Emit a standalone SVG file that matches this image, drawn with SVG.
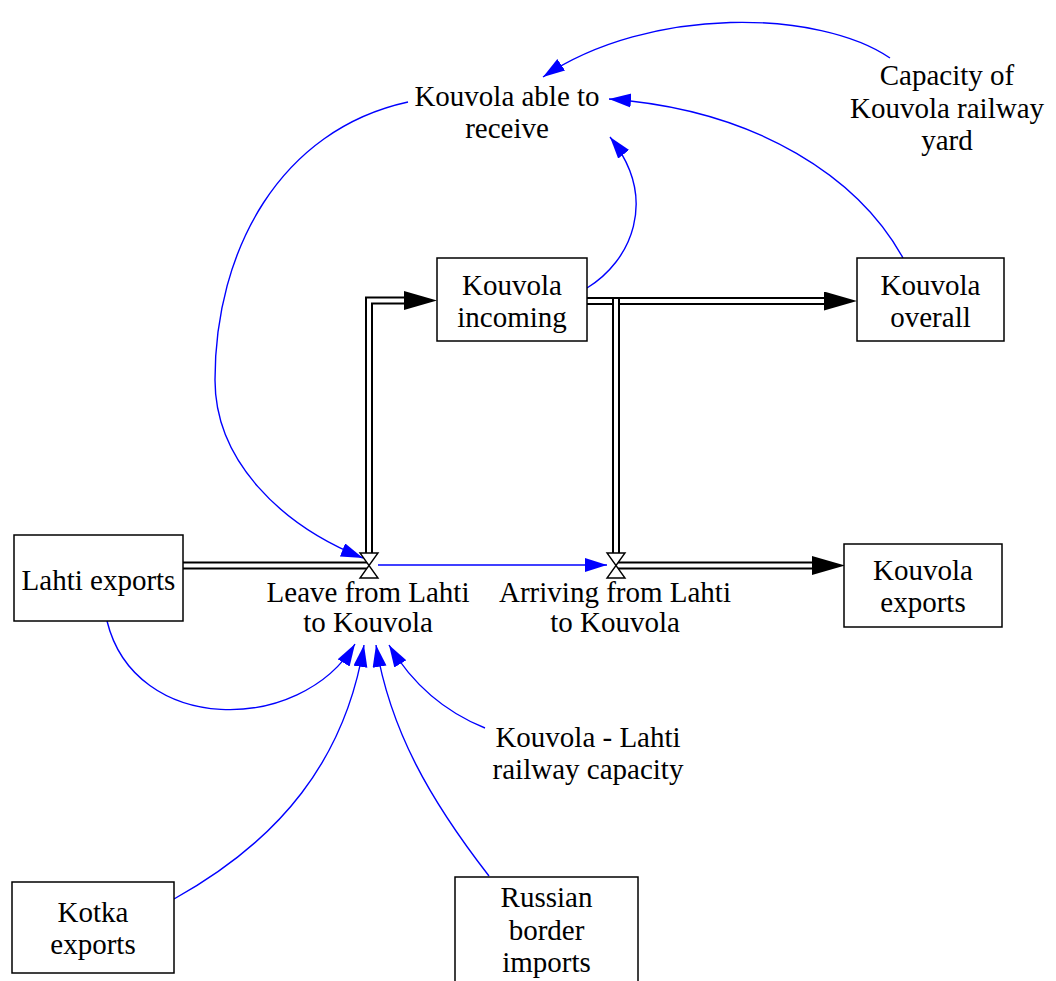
<svg xmlns="http://www.w3.org/2000/svg" width="1056" height="981" viewBox="0 0 1056 981">
  <style>
    text { font-family: "Liberation Serif", "Times New Roman", serif; font-size: 29px; fill: #000; text-anchor: middle; }
    .box { fill: #fff; stroke: #000; stroke-width: 1.5; }
    .pipe-outer { fill: none; stroke: #000; stroke-width: 8; }
    .pipe-inner { fill: none; stroke: #fff; stroke-width: 4; }
    .valve { fill: #fff; stroke: #000; stroke-width: 1.4; }
    .link { fill: none; stroke: #0000ff; stroke-width: 1.4; }
  </style>
  <defs>
    <marker id="info" markerUnits="userSpaceOnUse" markerWidth="24" markerHeight="16" refX="22" refY="7" orient="auto">
      <path d="M0,0 L22,7 L0,14 Z" fill="#0000ff"/>
    </marker>
    <marker id="flow" markerUnits="userSpaceOnUse" markerWidth="34" markerHeight="20" refX="0" refY="9.5" orient="auto">
      <path d="M0,0 L33,9.5 L0,19 Z" fill="#000"/>
    </marker>
  </defs>

  <!-- material flows (double-line pipes) -->
  <g id="flows">
    <path class="pipe-outer" d="M183,565.5 H369"/>
    <path class="pipe-inner" d="M183,565.5 H369"/>
    <path class="pipe-outer" d="M369,553 V300.5 H404"/>
    <path class="pipe-inner" d="M369,553 V300.5 H404" marker-end="url(#flow)"/>
    <path class="pipe-outer" d="M587,301 H824"/>
    <path class="pipe-inner" d="M587,301 H824" marker-end="url(#flow)"/>
    <path class="pipe-outer" d="M616,297 V553"/>
    <path class="pipe-inner" d="M616,299 V553"/>
    <path class="pipe-outer" d="M616,565.5 H812"/>
    <path class="pipe-inner" d="M616,565.5 H812" marker-end="url(#flow)"/>
  </g>

  <!-- information links -->
  <g id="connectors">
    <path class="link" d="M890,58 C820,10 650,5 543,77" marker-end="url(#info)"/>
    <path class="link" d="M903,258 C860,180 760,110 609,99" marker-end="url(#info)"/>
    <path class="link" d="M587,288 C630,262 660,200 610,137" marker-end="url(#info)"/>
    <path class="link" d="M408,102 C280,130 215,250 215,380 C215,460 280,525 363,558" marker-end="url(#info)"/>
    <path class="link" d="M378,565 H607" marker-end="url(#info)"/>
    <path class="link" d="M107,621 C135,735 300,735 355,644" marker-end="url(#info)"/>
    <path class="link" d="M174,899 C280,840 345,760 364,645" marker-end="url(#info)"/>
    <path class="link" d="M489,876 C430,800 390,730 376,645" marker-end="url(#info)"/>
    <path class="link" d="M485,728 C440,710 410,680 389,645" marker-end="url(#info)"/>
  </g>

  <!-- valves -->
  <g id="leave-from-lahti">
    <path class="valve" d="M360,553 H378 L360,578 H378 Z"/>
    <text x="368" y="602">Leave from Lahti</text>
    <text x="368" y="632">to Kouvola</text>
  </g>
  <g id="arriving-from-lahti">
    <path class="valve" d="M607,553 H625 L607,578 H625 Z"/>
    <text x="615" y="602">Arriving from Lahti</text>
    <text x="615" y="632">to Kouvola</text>
  </g>

  <!-- stocks -->
  <g id="lahti-exports">
    <rect class="box" x="14" y="535" width="169" height="86"/>
    <text x="98.5" y="590">Lahti exports</text>
  </g>
  <g id="kouvola-incoming">
    <rect class="box" x="437" y="258" width="150" height="83"/>
    <text x="512" y="295">Kouvola</text>
    <text x="512" y="327">incoming</text>
  </g>
  <g id="kouvola-overall">
    <rect class="box" x="857" y="258" width="147" height="83"/>
    <text x="930.5" y="295">Kouvola</text>
    <text x="930.5" y="327">overall</text>
  </g>
  <g id="kouvola-exports">
    <rect class="box" x="844" y="544" width="158" height="83"/>
    <text x="923" y="580">Kouvola</text>
    <text x="923" y="612">exports</text>
  </g>
  <g id="kotka-exports">
    <rect class="box" x="12" y="882" width="162" height="91"/>
    <text x="93" y="922">Kotka</text>
    <text x="93" y="954">exports</text>
  </g>
  <g id="russian-border-imports">
    <rect class="box" x="455" y="877" width="183" height="120"/>
    <text x="546.5" y="907">Russian</text>
    <text x="546.5" y="940">border</text>
    <text x="546.5" y="972">imports</text>
  </g>

  <!-- auxiliary variables -->
  <g id="kouvola-able-to-receive">
    <text x="507" y="106">Kouvola able to</text>
    <text x="507" y="138">receive</text>
  </g>
  <g id="capacity-of-kouvola-railway-yard">
    <text x="947" y="85">Capacity of</text>
    <text x="947" y="118">Kouvola railway</text>
    <text x="947" y="150">yard</text>
  </g>
  <g id="kouvola-lahti-railway-capacity">
    <text x="588" y="747">Kouvola - Lahti</text>
    <text x="588" y="779">railway capacity</text>
  </g>
</svg>
